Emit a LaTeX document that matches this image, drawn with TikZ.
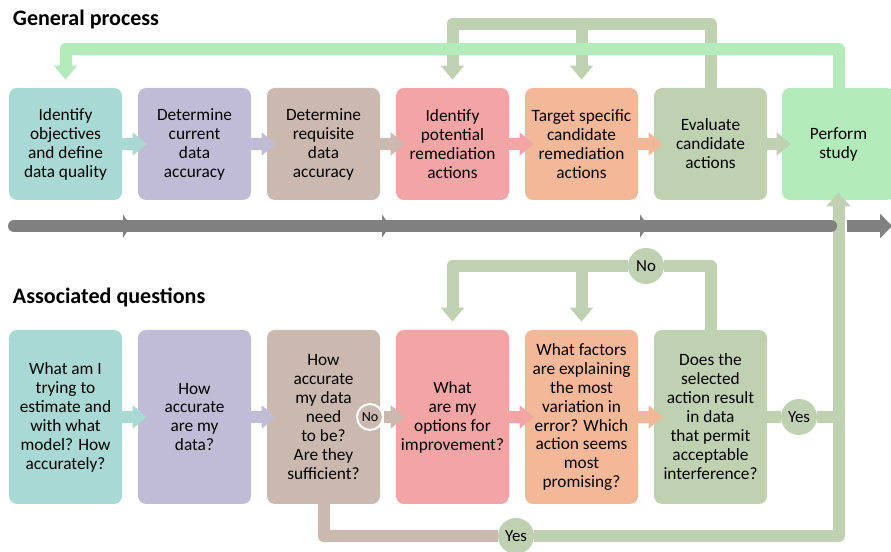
\documentclass[tikz,border=0pt]{standalone}
\usepackage{fontspec}
\setmainfont{Carlito}
\usepackage{xcolor}
\usetikzlibrary{arrows.meta}
\definecolor{tealc}{HTML}{A9D9D4}
\definecolor{lavc}{HTML}{C1BCD5}
\definecolor{tanc}{HTML}{CBB9AF}
\definecolor{pinkc}{HTML}{F3A5A5}
\definecolor{peachc}{HTML}{F3B898}
\definecolor{sagec}{HTML}{C0D1B2}
\definecolor{lgreenc}{HTML}{B3ECBA}
\definecolor{grayc}{HTML}{808080}
\tikzset{
	stepbox/.style={shape=rectangle, rounded corners=0.2cm, minimum width=2.825cm, align=center, inner sep=2pt, font=\fontsize{12.3}{13.5}\selectfont},
	chevron/.style={line width=0.3cm, -{Triangle[length=0.35cm, width=0.56cm]}, shorten >=-0.225cm},
	feedback/.style={line width=0.3cm, line join=round},
	reply/.style={shape=circle, fill=sagec, minimum size=0.9cm, inner sep=0pt, font=\fontsize{12}{13}\selectfont},
}

\begin{document}
\begin{tikzpicture}
	\useasboundingbox (0, 0) rectangle (22.275, 13.8);
	% Paths, nodes, and wires:
	\node[anchor=base west, font=\bfseries\fontsize{15.7}{17}\selectfont](T1) at (0.2, 13.15){General process};
	\node[anchor=base west, font=\bfseries\fontsize{15.7}{17}\selectfont](T2) at (0.2, 6.2){Associated questions};
	\node[stepbox, fill=tealc, minimum height=2.8cm](N1) at (1.6375, 10.2){Identify\\objectives\\and define\\data quality};
	\node[stepbox, fill=lavc, minimum height=2.8cm](N2) at (4.8625, 10.2){Determine\\current\\data\\accuracy};
	\node[stepbox, fill=tanc, minimum height=2.8cm](N3) at (8.0875, 10.2){Determine\\requisite\\data\\accuracy};
	\node[stepbox, fill=pinkc, minimum height=2.8cm](N4) at (11.3125, 10.2){Identify\\potential\\remediation\\actions};
	\node[stepbox, fill=peachc, minimum height=2.8cm](N5) at (14.5375, 10.2){Target specific\\candidate\\remediation\\actions};
	\node[stepbox, fill=sagec, minimum height=2.8cm](N6) at (17.7625, 10.2){Evaluate\\candidate\\actions};
	\node[stepbox, fill=lgreenc, minimum height=2.8cm](N7) at (20.9625, 10.2){Perform\\study};
	\node[stepbox, fill=tealc, minimum height=4.35cm](N8) at (1.6375, 3.375){What am I\\trying to\\estimate and\\with what\\model? How\\accurately?};
	\node[stepbox, fill=lavc, minimum height=4.35cm](N9) at (4.8625, 3.375){How\\accurate\\are my\\data?};
	\node[stepbox, fill=tanc, minimum height=4.35cm](N10) at (8.0875, 3.375){How\\accurate\\my data\\need\\to be?\\Are they\\sufficient?};
	\node[stepbox, fill=pinkc, minimum height=4.35cm](N11) at (11.3125, 3.375){What\\are my\\options for\\improvement?};
	\node[stepbox, fill=peachc, minimum height=4.35cm](N12) at (14.5375, 3.375){What factors\\are explaining\\the most\\variation in\\error? Which\\action seems\\most\\promising?};
	\node[stepbox, fill=sagec, minimum height=4.35cm](N13) at (17.7625, 3.375){Does the\\selected\\action result\\in data\\that permit\\acceptable\\interference?};
	\node[shape=circle, fill=tanc, draw=white, line width=1.4pt, minimum size=0.65cm, inner sep=0pt, font=\fontsize{10}{11}\selectfont](N14) at (9.25, 3.375){No};
	\node[reply](N15) at (16.15, 7.15){No};
	\node[reply](N16) at (19.975, 3.375){Yes};
	\node[reply](N17) at (12.9, 0.4){Yes};
	\draw[chevron, tealc] (N1.east) -- (N2.west);
	\draw[chevron, lavc] (N2.east) -- (N3.west);
	\draw[chevron, tanc] (N3.east) -- (N4.west);
	\draw[chevron, pinkc] (N4.east) -- (N5.west);
	\draw[chevron, peachc] (N5.east) -- (N6.west);
	\draw[chevron, sagec] (N6.east) -- (N7.west);
	\draw[chevron, tealc] (N8.east) -- (N9.west);
	\draw[chevron, lavc] (N9.east) -- (N10.west);
	\draw[chevron, tanc] (N14.east) -- (N11.west);
	\draw[chevron, pinkc] (N11.east) -- (N12.west);
	\draw[chevron, peachc] (N12.east) -- (N13.west);
	\draw[feedback, sagec, -{Triangle[length=0.35cm, width=0.56cm]}, shorten >=0.2cm] (N6.north) |- ([yshift=1.6cm]N4.north) -- (N4.north);
	\draw[feedback, sagec, -{Triangle[length=0.35cm, width=0.56cm]}, shorten >=0.2cm] ([yshift=1.6cm]N5.north) -- (N5.north);
	\draw[feedback, lgreenc, -{Triangle[length=0.35cm, width=0.56cm]}, shorten >=0.2cm] (N7.north) |- ([yshift=0.975cm]N1.north) -- (N1.north);
	\draw[feedback, sagec] (N13.north) |- (N15.east);
	\draw[feedback, sagec, -{Triangle[length=0.35cm, width=0.56cm]}, shorten >=0.2cm] (N15.west) -| (N11.north);
	\draw[feedback, sagec, -{Triangle[length=0.35cm, width=0.56cm]}, shorten >=0.2cm] (N12.north |- N15) -- (N12.north);
	\draw[feedback, sagec] (N13.east) -- (N16.west);
	\draw[feedback, sagec] (N16.east) -- (N16.east -| N7.south);
	\draw[feedback, tanc] (N10.south) |- (N17.west);
	\draw[feedback, sagec, -{Triangle[length=0.35cm, width=0.58cm]}, shorten >=-0.2cm] (N17.east) -| (N7.south);
	\draw[line width=0.3cm, grayc, line cap=round] (0.35, 8.15) -- (20.775, 8.15);
	\draw[line width=0.3cm, grayc, -{Triangle[length=0.3cm, width=0.6cm]}] (21.175, 8.15) -- (22.3, 8.15);
	\foreach \x in {3.075, 9.55, 16.0}
		\fill[grayc] (\x, 8.44) -- (\x+0.2, 8.15) -- (\x, 7.86) -- cycle;
\end{tikzpicture}
\end{document}
